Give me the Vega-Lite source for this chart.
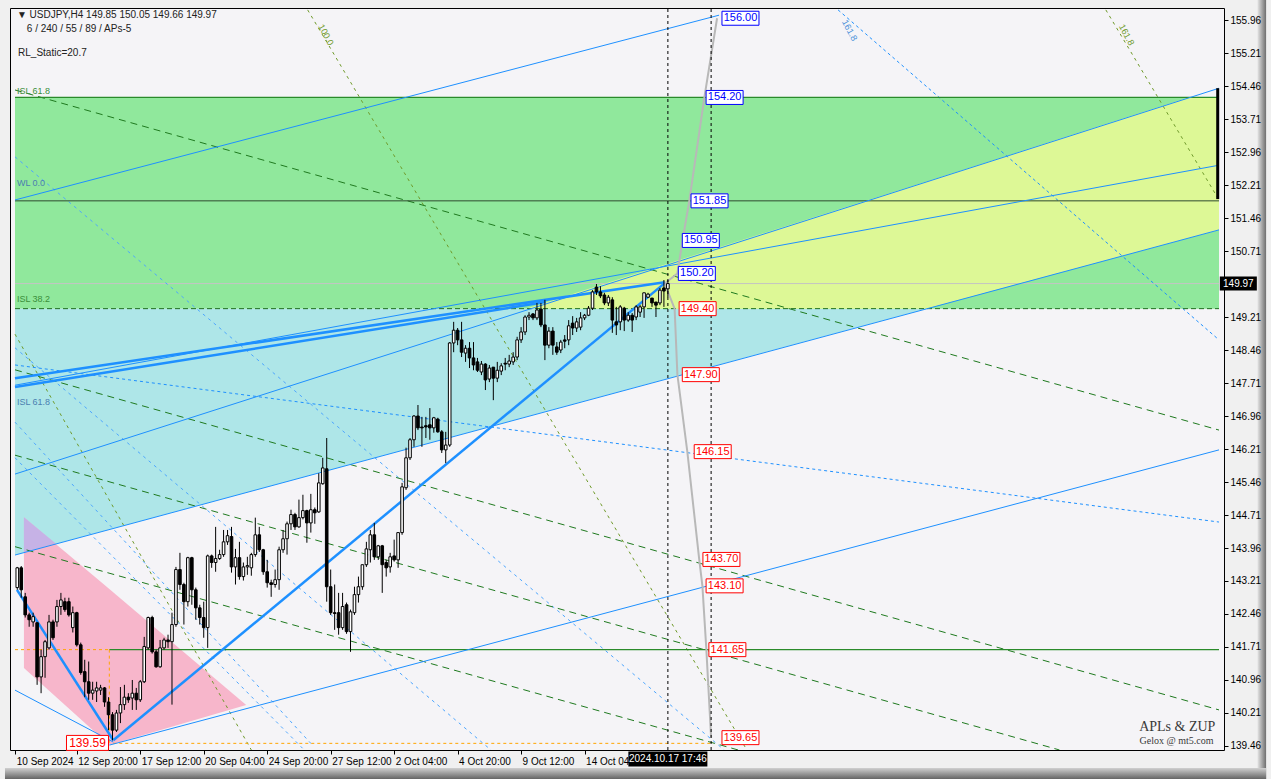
{
"$schema":"https://vega.github.io/schema/vega-lite/v6.json",
"width":1214,"height":742,
"autosize":{"type":"none"},
"padding":{"left":10,"top":8,"right":47,"bottom":29},
"background":"#f0f0f0",
"config":{"view":{"stroke":"#000000","strokeWidth":1,"fill":"#f5f4f7"},"font":"Liberation Sans","axis":{"labelOverlap":false,"labelFlush":false}},
"datasets":{
"candles":[
{"i":0,"o":143.06,"h":143.53,"l":143.01,"c":143.51},{"i":1,"o":143.51,"h":143.55,"l":142.83,"c":143.01},{"i":2,"o":142.85,"h":142.94,"l":142.38,"c":142.44},{"i":3,"o":142.44,"h":142.49,"l":142.17,"c":142.33},{"i":4,"o":142.28,"h":142.49,"l":142.17,"c":142.40},{"i":5,"o":142.26,"h":142.28,"l":140.85,"c":141.03},{"i":6,"o":141.03,"h":141.65,"l":140.66,"c":141.49},{"i":7,"o":141.49,"h":141.87,"l":141.01,"c":141.83},{"i":8,"o":141.69,"h":142.44,"l":141.65,"c":142.28},{"i":9,"o":142.28,"h":142.33,"l":141.87,"c":141.92},
{"i":10,"o":142.28,"h":142.78,"l":142.17,"c":142.63},{"i":11,"o":142.63,"h":142.94,"l":142.44,"c":142.78},{"i":12,"o":142.74,"h":142.83,"l":142.51,"c":142.56},{"i":13,"o":142.74,"h":142.83,"l":142.40,"c":142.44},{"i":14,"o":142.15,"h":142.63,"l":142.04,"c":142.49},{"i":15,"o":142.49,"h":142.51,"l":141.72,"c":141.76},{"i":16,"o":141.76,"h":141.81,"l":141.08,"c":141.13},{"i":17,"o":141.15,"h":141.42,"l":140.57,"c":140.92},{"i":18,"o":140.92,"h":141.38,"l":140.51,"c":140.66},{"i":19,"o":140.66,"h":140.92,"l":140.51,"c":140.73},
{"i":20,"o":140.71,"h":140.92,"l":140.46,"c":140.78},{"i":21,"o":140.73,"h":140.85,"l":140.62,"c":140.78},{"i":22,"o":140.78,"h":140.80,"l":140.35,"c":140.46},{"i":23,"o":140.46,"h":140.57,"l":139.82,"c":140.17},{"i":24,"o":140.17,"h":140.23,"l":139.59,"c":139.82},{"i":25,"o":139.82,"h":140.28,"l":139.78,"c":140.21},{"i":26,"o":140.21,"h":140.80,"l":139.98,"c":140.40},{"i":27,"o":140.40,"h":140.85,"l":140.28,"c":140.57},{"i":28,"o":140.57,"h":140.66,"l":140.44,"c":140.51},{"i":29,"o":140.55,"h":140.96,"l":140.28,"c":140.66},
{"i":30,"o":140.66,"h":140.78,"l":140.28,"c":140.51},{"i":31,"o":140.51,"h":140.96,"l":140.46,"c":140.92},{"i":32,"o":140.92,"h":141.94,"l":140.89,"c":141.72},{"i":33,"o":141.69,"h":142.40,"l":141.65,"c":142.38},{"i":34,"o":142.38,"h":142.42,"l":141.56,"c":141.60},{"i":35,"o":141.60,"h":141.65,"l":141.24,"c":141.26},{"i":36,"o":141.26,"h":141.87,"l":141.24,"c":141.69},{"i":37,"o":141.69,"h":141.92,"l":141.65,"c":141.87},{"i":38,"o":141.87,"h":141.99,"l":141.69,"c":141.83},{"i":39,"o":141.83,"h":142.49,"l":140.40,"c":142.22},
{"i":40,"o":142.22,"h":143.53,"l":142.17,"c":143.47},{"i":41,"o":143.47,"h":143.85,"l":143.01,"c":143.13},{"i":42,"o":143.13,"h":143.17,"l":142.22,"c":142.74},{"i":43,"o":142.74,"h":143.76,"l":142.63,"c":143.74},{"i":44,"o":143.74,"h":143.76,"l":142.67,"c":143.01},{"i":45,"o":143.01,"h":143.06,"l":142.33,"c":142.60},{"i":46,"o":142.60,"h":142.67,"l":142.22,"c":142.38},{"i":47,"o":142.38,"h":142.74,"l":141.92,"c":142.15},{"i":48,"o":142.15,"h":143.81,"l":141.69,"c":143.78},{"i":49,"o":143.78,"h":143.81,"l":143.51,"c":143.63},
{"i":50,"o":143.63,"h":144.44,"l":143.42,"c":143.72},{"i":51,"o":143.72,"h":143.92,"l":143.69,"c":143.81},{"i":52,"o":143.81,"h":144.37,"l":143.76,"c":144.10},{"i":53,"o":144.10,"h":144.37,"l":144.03,"c":144.24},{"i":54,"o":144.22,"h":144.44,"l":143.40,"c":143.53},{"i":55,"o":143.53,"h":143.94,"l":143.13,"c":143.74},{"i":56,"o":143.74,"h":144.10,"l":143.24,"c":143.31},{"i":57,"o":143.31,"h":143.63,"l":143.22,"c":143.53},{"i":58,"o":143.53,"h":143.76,"l":143.35,"c":143.56},{"i":59,"o":143.51,"h":143.85,"l":143.33,"c":143.81},
{"i":60,"o":143.81,"h":144.65,"l":143.76,"c":144.26},{"i":61,"o":144.26,"h":144.44,"l":143.87,"c":143.92},{"i":62,"o":143.92,"h":143.94,"l":143.35,"c":143.42},{"i":63,"o":143.42,"h":143.69,"l":143.06,"c":143.17},{"i":64,"o":143.17,"h":143.24,"l":142.85,"c":143.13},{"i":65,"o":143.13,"h":143.47,"l":143.06,"c":143.24},{"i":66,"o":143.24,"h":143.99,"l":143.01,"c":143.92},{"i":67,"o":143.92,"h":144.37,"l":143.85,"c":144.17},{"i":68,"o":144.17,"h":144.56,"l":143.81,"c":144.51},{"i":69,"o":144.51,"h":144.83,"l":144.37,"c":144.72},
{"i":70,"o":144.72,"h":144.76,"l":144.37,"c":144.44},{"i":71,"o":144.44,"h":145.06,"l":144.42,"c":144.65},{"i":72,"o":144.65,"h":145.17,"l":144.61,"c":144.81},{"i":73,"o":144.81,"h":144.83,"l":144.08,"c":144.53},{"i":74,"o":144.53,"h":145.19,"l":144.31,"c":144.83},{"i":75,"o":144.83,"h":144.88,"l":144.51,"c":144.76},{"i":76,"o":144.78,"h":145.66,"l":144.76,"c":145.44},{"i":77,"o":145.42,"h":146.01,"l":145.40,"c":145.78},{"i":78,"o":145.76,"h":146.46,"l":142.74,"c":143.08},{"i":79,"o":143.08,"h":143.47,"l":142.44,"c":142.49},
{"i":80,"o":142.49,"h":143.13,"l":142.10,"c":142.47},{"i":81,"o":142.49,"h":142.94,"l":141.99,"c":142.15},{"i":82,"o":142.15,"h":142.94,"l":142.10,"c":142.63},{"i":83,"o":142.67,"h":142.72,"l":142.01,"c":142.06},{"i":84,"o":142.06,"h":142.56,"l":141.60,"c":142.51},{"i":85,"o":142.49,"h":143.08,"l":142.44,"c":142.90},{"i":86,"o":142.90,"h":143.31,"l":142.72,"c":143.08},{"i":87,"o":143.08,"h":143.58,"l":143.01,"c":143.58},{"i":88,"o":143.58,"h":144.10,"l":143.53,"c":143.94},{"i":89,"o":143.92,"h":144.37,"l":143.63,"c":144.26},
{"i":90,"o":144.26,"h":144.53,"l":143.69,"c":143.76},{"i":91,"o":143.76,"h":144.03,"l":143.69,"c":144.01},{"i":92,"o":144.01,"h":144.03,"l":142.94,"c":143.58},{"i":93,"o":143.63,"h":143.69,"l":143.31,"c":143.51},{"i":94,"o":143.53,"h":143.85,"l":143.40,"c":143.76},{"i":95,"o":143.78,"h":144.15,"l":143.65,"c":143.69},{"i":96,"o":143.69,"h":144.31,"l":143.51,"c":144.31},{"i":97,"o":144.31,"h":145.44,"l":144.26,"c":145.35},{"i":98,"o":145.33,"h":146.24,"l":145.28,"c":146.01},{"i":99,"o":146.01,"h":146.46,"l":145.96,"c":146.42},
{"i":100,"o":146.42,"h":146.98,"l":146.26,"c":146.96},{"i":101,"o":146.96,"h":147.21,"l":146.64,"c":146.69},{"i":102,"o":146.71,"h":146.94,"l":146.26,"c":146.69},{"i":103,"o":146.74,"h":146.94,"l":146.46,"c":146.71},{"i":104,"o":146.76,"h":147.14,"l":146.42,"c":146.69},{"i":105,"o":146.69,"h":146.94,"l":146.58,"c":146.92},{"i":106,"o":146.89,"h":146.92,"l":146.58,"c":146.60},{"i":107,"o":146.60,"h":146.64,"l":146.12,"c":146.19},{"i":108,"o":146.19,"h":146.60,"l":145.89,"c":146.30},{"i":109,"o":146.30,"h":148.64,"l":146.26,"c":148.62},
{"i":110,"o":148.62,"h":149.10,"l":148.41,"c":148.91},{"i":111,"o":148.91,"h":148.96,"l":148.57,"c":148.69},{"i":112,"o":148.69,"h":149.10,"l":148.30,"c":148.41},{"i":113,"o":148.39,"h":148.57,"l":148.19,"c":148.50},{"i":114,"o":148.50,"h":148.64,"l":148.05,"c":148.28},{"i":115,"o":148.28,"h":148.64,"l":148.00,"c":148.12},{"i":116,"o":148.19,"h":148.28,"l":147.96,"c":148.00},{"i":117,"o":147.96,"h":148.21,"l":147.89,"c":148.14},{"i":118,"o":148.14,"h":148.16,"l":147.55,"c":147.78},{"i":119,"o":147.80,"h":148.12,"l":147.73,"c":148.05},
{"i":120,"o":148.07,"h":148.07,"l":147.32,"c":147.82},{"i":121,"o":147.82,"h":148.19,"l":147.73,"c":148.00},{"i":122,"o":147.98,"h":148.16,"l":147.89,"c":148.10},{"i":123,"o":148.16,"h":148.28,"l":148.00,"c":148.14},{"i":124,"o":148.14,"h":148.35,"l":148.07,"c":148.21},{"i":125,"o":148.19,"h":148.41,"l":148.12,"c":148.30},{"i":126,"o":148.30,"h":148.76,"l":148.23,"c":148.69},{"i":127,"o":148.69,"h":148.98,"l":148.62,"c":148.87},{"i":128,"o":148.87,"h":149.25,"l":148.80,"c":149.21},{"i":129,"o":149.21,"h":149.32,"l":149.14,"c":149.25},
{"i":130,"o":149.28,"h":149.30,"l":149.14,"c":149.19},{"i":131,"o":149.19,"h":149.53,"l":149.14,"c":149.37},{"i":132,"o":149.39,"h":149.53,"l":148.98,"c":149.03},{"i":133,"o":149.03,"h":149.60,"l":148.23,"c":148.57},{"i":134,"o":148.57,"h":148.98,"l":148.50,"c":148.89},{"i":135,"o":148.89,"h":148.98,"l":148.35,"c":148.57},{"i":136,"o":148.53,"h":148.64,"l":148.35,"c":148.41},{"i":137,"o":148.46,"h":148.69,"l":148.39,"c":148.64},{"i":138,"o":148.69,"h":148.80,"l":148.50,"c":148.66},{"i":139,"o":148.69,"h":149.14,"l":148.57,"c":149.01},
{"i":140,"o":149.07,"h":149.23,"l":148.80,"c":148.96},{"i":141,"o":148.96,"h":149.19,"l":148.87,"c":149.10},{"i":142,"o":148.98,"h":149.32,"l":148.91,"c":149.19},{"i":143,"o":149.19,"h":149.28,"l":149.14,"c":149.25},{"i":144,"o":149.25,"h":149.46,"l":149.23,"c":149.41},{"i":145,"o":149.41,"h":149.82,"l":149.37,"c":149.78},{"i":146,"o":149.89,"h":149.96,"l":149.71,"c":149.78},{"i":147,"o":149.78,"h":149.91,"l":149.64,"c":149.69},{"i":148,"o":149.71,"h":149.76,"l":149.48,"c":149.53},{"i":149,"o":149.53,"h":149.71,"l":149.46,"c":149.66},
{"i":150,"o":149.60,"h":149.66,"l":148.85,"c":149.14},{"i":151,"o":149.10,"h":149.44,"l":148.80,"c":149.03},{"i":152,"o":149.10,"h":149.48,"l":148.91,"c":149.44},{"i":153,"o":149.41,"h":149.44,"l":148.89,"c":149.14},{"i":154,"o":149.14,"h":149.32,"l":149.10,"c":149.25},{"i":155,"o":149.25,"h":149.30,"l":148.87,"c":149.14},{"i":156,"o":149.21,"h":149.48,"l":149.14,"c":149.44},{"i":157,"o":149.32,"h":149.48,"l":149.21,"c":149.44},{"i":158,"o":149.44,"h":149.76,"l":149.19,"c":149.76},{"i":159,"o":149.66,"h":149.76,"l":149.64,"c":149.73},
{"i":160,"o":149.64,"h":149.64,"l":149.44,"c":149.53},{"i":161,"o":149.55,"h":149.55,"l":149.21,"c":149.48},{"i":162,"o":149.53,"h":149.87,"l":149.48,"c":149.82},{"i":163,"o":149.87,"h":150.05,"l":149.44,"c":149.80},{"i":164,"o":149.85,"h":150.05,"l":149.66,"c":149.97}
],
"segs":[
{"g":"hg","id":"h1","o":0,"i":-0.575,"p":154.2},{"g":"hg","id":"h1","o":1,"i":302.925,"p":154.2},
{"g":"hg","id":"h4","o":0,"i":23.2,"p":141.65},{"g":"hg","id":"h4","o":1,"i":302.925,"p":141.65},
{"g":"hk","id":"h2","o":0,"i":-0.575,"p":151.85},{"g":"hk","id":"h2","o":1,"i":302.925,"p":151.85},
{"g":"hgd","id":"h3","o":0,"i":-0.575,"p":149.4},{"g":"hgd","id":"h3","o":1,"i":302.925,"p":149.4},
{"g":"hl","id":"h5","o":0,"i":-0.575,"p":149.97},{"g":"hl","id":"h5","o":1,"i":302.925,"p":149.97},
{"g":"b","id":"B1","o":0,"i":-0.575,"p":151.87},{"g":"b","id":"B1","o":1,"i":176.9,"p":156.07},
{"g":"b","id":"B2","o":0,"i":-0.575,"p":147.66},{"g":"b","id":"B2","o":1,"i":302.925,"p":152.66},
{"g":"b","id":"B3","o":0,"i":-0.575,"p":145.64},{"g":"b","id":"B3","o":1,"i":302.925,"p":154.41},
{"g":"b","id":"B4","o":0,"i":-0.575,"p":143.80},{"g":"b","id":"B4","o":1,"i":302.925,"p":151.19},
{"g":"b","id":"B5","o":0,"i":23.2,"p":139.48},{"g":"b","id":"B5","o":1,"i":302.925,"p":146.19},
{"g":"b","id":"B6","o":0,"i":-0.575,"p":140.73},{"g":"b","id":"B6","o":1,"i":24.2,"p":139.55},
{"g":"bt","id":"T1","o":0,"i":-0.075,"p":143.01},{"g":"bt","id":"T1","o":1,"i":24.2,"p":139.59},
{"g":"bt","id":"T2","o":0,"i":24.2,"p":139.59},{"g":"bt","id":"T2","o":1,"i":163.2,"p":149.98},
{"g":"bt","id":"T3","o":0,"i":-0.575,"p":147.82},{"g":"bt","id":"T3","o":1,"i":163.2,"p":150.0},
{"g":"bt","id":"T4","o":0,"i":-0.575,"p":147.62},{"g":"bt","id":"T4","o":1,"i":133.2,"p":149.55},
{"g":"bd","id":"D1","o":0,"i":-0.575,"p":148.12},{"g":"bd","id":"D1","o":1,"i":302.925,"p":144.55},
{"g":"bd","id":"D2","o":0,"i":206.9,"p":156.19},{"g":"bd","id":"D2","o":1,"i":302.925,"p":148.69},
{"g":"bs","id":"S1","o":0,"i":-0.575,"p":152.85},{"g":"bs","id":"S1","o":1,"i":178.2,"p":139.37},
{"g":"bs","id":"S2","o":0,"i":-0.575,"p":148.51},{"g":"bs","id":"S2","o":1,"i":119.4,"p":139.37},
{"g":"bs","id":"S3","o":0,"i":-0.575,"p":146.82},{"g":"bs","id":"S3","o":1,"i":74.4,"p":139.48},
{"g":"bs","id":"S4","o":0,"i":-0.575,"p":146.01},{"g":"bs","id":"S4","o":1,"i":71.9,"p":139.41},
{"g":"gd","id":"G1","o":0,"i":-0.575,"p":154.37},{"g":"gd","id":"G1","o":1,"i":302.925,"p":146.64},
{"g":"gd","id":"G2","o":0,"i":-0.575,"p":148.01},{"g":"gd","id":"G2","o":1,"i":302.925,"p":140.28},
{"g":"gd","id":"G3","o":0,"i":-0.575,"p":146.07},{"g":"gd","id":"G3","o":1,"i":262.7,"p":139.37},
{"g":"gd","id":"G4","o":0,"i":-0.575,"p":143.99},{"g":"gd","id":"G4","o":1,"i":181.7,"p":139.37},
{"g":"od","id":"O1","o":0,"i":73.2,"p":156.19},{"g":"od","id":"O1","o":1,"i":183.9,"p":139.37},
{"g":"od","id":"O2","o":0,"i":-0.575,"p":148.82},{"g":"od","id":"O2","o":1,"i":59.0,"p":139.37},
{"g":"od","id":"O3","o":0,"i":274.4,"p":156.19},{"g":"od","id":"O3","o":1,"i":302.925,"p":151.87},
{"g":"gr","id":"up","o":0,"i":163.2,"p":149.97},{"g":"gr","id":"up","o":1,"i":166.4,"p":150.2},{"g":"gr","id":"up","o":2,"i":167.7,"p":150.95},{"g":"gr","id":"up","o":3,"i":169.4,"p":151.85},{"g":"gr","id":"up","o":4,"i":173.2,"p":154.2},{"g":"gr","id":"up","o":5,"i":176.4,"p":156.0},
{"g":"gr","id":"dn","o":0,"i":163.2,"p":149.97},{"g":"gr","id":"dn","o":1,"i":165.7,"p":149.4},{"g":"gr","id":"dn","o":2,"i":166.4,"p":147.9},{"g":"gr","id":"dn","o":3,"i":168.9,"p":146.15},{"g":"gr","id":"dn","o":4,"i":171.9,"p":143.7},{"g":"gr","id":"dn","o":5,"i":172.7,"p":143.1},{"g":"gr","id":"dn","o":6,"i":173.7,"p":141.65},{"g":"gr","id":"dn","o":7,"i":174.9,"p":139.65},
{"g":"or","id":"r1","o":0,"i":-0.575,"p":141.65},{"g":"or","id":"r1","o":1,"i":23.2,"p":141.65},
{"g":"or","id":"r2","o":0,"i":23.2,"p":141.65},{"g":"or","id":"r2","o":1,"i":23.2,"p":139.52},
{"g":"or","id":"r3","o":0,"i":24.2,"p":139.52},{"g":"or","id":"r3","o":1,"i":174.9,"p":139.52},
{"g":"kd","id":"v1","o":0,"i":164,"p":139.369},{"g":"kd","id":"v1","o":1,"i":164,"p":156.233},
{"g":"kd","id":"v2","o":0,"i":174.9,"p":139.369},{"g":"kd","id":"v2","o":1,"i":174.9,"p":156.233}
],
"plabels":[
{"t":"156.00","i":182.3,"p":156.0,"g":"b"},{"t":"154.20","i":178.3,"p":154.2,"g":"b"},{"t":"151.85","i":174.5,"p":151.85,"g":"b"},{"t":"150.95","i":172.3,"p":150.95,"g":"b"},{"t":"150.20","i":171.3,"p":150.2,"g":"b"},
{"t":"149.40","i":171.5,"p":149.4,"g":"r"},{"t":"147.90","i":172.3,"p":147.9,"g":"r"},{"t":"146.15","i":175.3,"p":146.15,"g":"r"},{"t":"143.70","i":177.5,"p":143.7,"g":"r"},{"t":"143.10","i":178.3,"p":143.1,"g":"r"},{"t":"141.65","i":179.0,"p":141.65,"g":"r"},{"t":"139.65","i":182.3,"p":139.65,"g":"r"}
],
"texts":[
{"t":"▼ USDJPY,H4  149.85 150.05 149.66 149.97","i":-0.1,"p":156.07,"g":"k"},
{"t":"6 / 240 / 55 / 89 / APs-5","i":2.4,"p":155.76,"g":"k"},
{"t":"RL_Static=20.7","i":0.2,"p":155.21,"g":"k"},
{"t":"ISL 61.8","i":-0.1,"p":154.35,"g":"g"},
{"t":"ISL 38.2","i":-0.1,"p":149.62,"g":"g"},
{"t":"WL 0.0","i":-0.1,"p":152.25,"g":"s"},
{"t":"ISL 61.8","i":-0.1,"p":147.28,"g":"s"}
],
"rtexts":[
{"t":"100.0","i":76.5,"p":155.85,"g":"o"},
{"t":"161.8","i":278.3,"p":155.85,"g":"o"},
{"t":"161.8","i":208.5,"p":155.95,"g":"s"}
],
"bevel":[
{"k":"r","i1":312.6,"i2":314.8,"p1":138.7,"p2":156.42},
{"k":"b","i1":-3.1,"i2":314.8,"p1":138.7,"p2":138.96}
]
},
"layer":[
{"data":{"values":[{"i1":-0.575,"i2":302.925,"p1":149.4,"p2":154.2}]},
 "mark":{"type":"rect","fill":"#90e89c"},
 "encoding":{
  "x":{"field":"i1","type":"quantitative","title":null,"scale":{"domain":[-0.575,302.925],"nice":false,"zero":false},
   "axis":{"values":[-0.5,15,31,47,63,79,95,111,127,143],"tickCount":40,"labelExpr":"datum.value < 0 ? '10 Sep 2024' : datum.value == 15 ? '12 Sep 20:00' : datum.value == 31 ? '17 Sep 12:00' : datum.value == 47 ? '20 Sep 04:00' : datum.value == 63 ? '24 Sep 20:00' : datum.value == 79 ? '27 Sep 12:00' : datum.value == 95 ? '2 Oct 04:00' : datum.value == 111 ? '4 Oct 20:00' : datum.value == 127 ? '9 Oct 12:00' : '14 Oct 04:'","labelAlign":"left","labelFont":"Liberation Sans","labelFontSize":10,"labelColor":"#000000","tickColor":"#000000","tickSize":4,"domain":false,"grid":false,"title":null,"labelPadding":2,"labelFlush":false,"labelOverlap":false,"labelOffset":1}},
  "x2":{"field":"i2"},
  "y":{"field":"p1","type":"quantitative","title":null,"scale":{"domain":[139.369,156.233],"nice":false,"zero":false},
   "axis":{"orient":"right","values":[139.46,140.21,140.96,141.71,142.46,143.21,143.96,144.71,145.46,146.21,146.96,147.71,148.46,149.21,150.71,151.46,152.21,152.96,153.71,154.46,155.21,155.96],"tickCount":60,"format":".2f","labelFont":"Liberation Sans","labelFontSize":10,"labelColor":"#000000","tickColor":"#000000","tickSize":4,"domain":false,"grid":false,"title":null,"labelPadding":2,"labelOverlap":false,"labelFlush":false,"zindex":1}},
  "y2":{"field":"p2"}}},
{"data":{"values":[{"i":-0.575,"t":149.4,"b":143.8},{"i":229.2,"t":149.4,"b":149.4}]},
 "mark":{"type":"area","fill":"#aee6e8","clip":true},
 "encoding":{"x":{"field":"i","type":"quantitative","scale":{"domain":[-0.575,302.925],"nice":false,"zero":false},"title":null},
  "y":{"field":"t","type":"quantitative","scale":{"domain":[139.369,156.233],"nice":false,"zero":false},"title":null},"y2":{"field":"b"}}},
{"data":{"values":[{"i":128.2,"t":149.4,"b":149.4},{"i":229.2,"t":152.29,"b":149.4},{"i":295.2,"t":154.2,"b":151.0},{"i":302.925,"t":154.2,"b":151.19}]},
 "mark":{"type":"area","fill":"#ddf896","clip":true},
 "encoding":{"x":{"field":"i","type":"quantitative","scale":{"domain":[-0.575,302.925],"nice":false,"zero":false},"title":null},
  "y":{"field":"t","type":"quantitative","scale":{"domain":[139.369,156.233],"nice":false,"zero":false},"title":null},"y2":{"field":"b"}}},
{"data":{"values":[{"i":1.675,"t":144.66,"b":141.23},{"i":23.2,"t":143.03,"b":139.48},{"i":57.7,"t":140.39,"b":140.39}]},
 "mark":{"type":"area","fill":"#f7b6cb","clip":true},
 "encoding":{"x":{"field":"i","type":"quantitative","scale":{"domain":[-0.575,302.925],"nice":false,"zero":false},"title":null},
  "y":{"field":"t","type":"quantitative","scale":{"domain":[139.369,156.233],"nice":false,"zero":false},"title":null},"y2":{"field":"b"}}},
{"data":{"values":[{"i":1.675,"t":144.66,"b":143.86},{"i":9.675,"t":144.06,"b":144.06}]},
 "mark":{"type":"area","fill":"#c6b2e6","clip":true},
 "encoding":{"x":{"field":"i","type":"quantitative","scale":{"domain":[-0.575,302.925],"nice":false,"zero":false},"title":null},
  "y":{"field":"t","type":"quantitative","scale":{"domain":[139.369,156.233],"nice":false,"zero":false},"title":null},"y2":{"field":"b"}}},
{"data":{"name":"segs"},"transform":[{"filter":"datum.g=='hl'"}],"mark":{"type":"line","stroke":"#c4c4c4","strokeWidth":1,"clip":true},
 "encoding":{"x":{"field":"i","type":"quantitative","scale":{"domain":[-0.575,302.925],"nice":false,"zero":false},"title":null},"y":{"field":"p","type":"quantitative","scale":{"domain":[139.369,156.233],"nice":false,"zero":false},"title":null},"detail":{"field":"id"},"order":{"field":"o"}}},
{"data":{"name":"segs"},"transform":[{"filter":"datum.g=='od'"}],"mark":{"type":"line","stroke":"#6f9a2a","strokeWidth":1,"strokeDash":[3,4],"clip":true},
 "encoding":{"x":{"field":"i","type":"quantitative","scale":{"domain":[-0.575,302.925],"nice":false,"zero":false},"title":null},"y":{"field":"p","type":"quantitative","scale":{"domain":[139.369,156.233],"nice":false,"zero":false},"title":null},"detail":{"field":"id"},"order":{"field":"o"}}},
{"data":{"name":"segs"},"transform":[{"filter":"datum.g=='bs'"}],"mark":{"type":"line","stroke":"#4da6ff","strokeWidth":1,"strokeDash":[3,4],"clip":true},
 "encoding":{"x":{"field":"i","type":"quantitative","scale":{"domain":[-0.575,302.925],"nice":false,"zero":false},"title":null},"y":{"field":"p","type":"quantitative","scale":{"domain":[139.369,156.233],"nice":false,"zero":false},"title":null},"detail":{"field":"id"},"order":{"field":"o"}}},
{"data":{"name":"segs"},"transform":[{"filter":"datum.g=='gd'"}],"mark":{"type":"line","stroke":"#1f7a1f","strokeWidth":1,"strokeDash":[7,5],"clip":true},
 "encoding":{"x":{"field":"i","type":"quantitative","scale":{"domain":[-0.575,302.925],"nice":false,"zero":false},"title":null},"y":{"field":"p","type":"quantitative","scale":{"domain":[139.369,156.233],"nice":false,"zero":false},"title":null},"detail":{"field":"id"},"order":{"field":"o"}}},
{"data":{"name":"segs"},"transform":[{"filter":"datum.g=='bd'"}],"mark":{"type":"line","stroke":"#1e90ff","strokeWidth":1,"strokeDash":[3,3],"clip":true},
 "encoding":{"x":{"field":"i","type":"quantitative","scale":{"domain":[-0.575,302.925],"nice":false,"zero":false},"title":null},"y":{"field":"p","type":"quantitative","scale":{"domain":[139.369,156.233],"nice":false,"zero":false},"title":null},"detail":{"field":"id"},"order":{"field":"o"}}},
{"data":{"name":"segs"},"transform":[{"filter":"datum.g=='hg'"}],"mark":{"type":"line","stroke":"#2a8a2a","strokeWidth":1.2,"clip":true},
 "encoding":{"x":{"field":"i","type":"quantitative","scale":{"domain":[-0.575,302.925],"nice":false,"zero":false},"title":null},"y":{"field":"p","type":"quantitative","scale":{"domain":[139.369,156.233],"nice":false,"zero":false},"title":null},"detail":{"field":"id"},"order":{"field":"o"}}},
{"data":{"name":"segs"},"transform":[{"filter":"datum.g=='hk'"}],"mark":{"type":"line","stroke":"#2f4a2f","strokeWidth":1,"clip":true},
 "encoding":{"x":{"field":"i","type":"quantitative","scale":{"domain":[-0.575,302.925],"nice":false,"zero":false},"title":null},"y":{"field":"p","type":"quantitative","scale":{"domain":[139.369,156.233],"nice":false,"zero":false},"title":null},"detail":{"field":"id"},"order":{"field":"o"}}},
{"data":{"name":"segs"},"transform":[{"filter":"datum.g=='hgd'"}],"mark":{"type":"line","stroke":"#1f6f1f","strokeWidth":1,"strokeDash":[5,3],"clip":true},
 "encoding":{"x":{"field":"i","type":"quantitative","scale":{"domain":[-0.575,302.925],"nice":false,"zero":false},"title":null},"y":{"field":"p","type":"quantitative","scale":{"domain":[139.369,156.233],"nice":false,"zero":false},"title":null},"detail":{"field":"id"},"order":{"field":"o"}}},
{"data":{"name":"segs"},"transform":[{"filter":"datum.g=='or'"}],"mark":{"type":"line","stroke":"#ffa500","strokeWidth":1,"strokeDash":[3,3],"clip":true},
 "encoding":{"x":{"field":"i","type":"quantitative","scale":{"domain":[-0.575,302.925],"nice":false,"zero":false},"title":null},"y":{"field":"p","type":"quantitative","scale":{"domain":[139.369,156.233],"nice":false,"zero":false},"title":null},"detail":{"field":"id"},"order":{"field":"o"}}},
{"data":{"name":"segs"},"transform":[{"filter":"datum.g=='b'"}],"mark":{"type":"line","stroke":"#1e90ff","strokeWidth":1,"clip":true},
 "encoding":{"x":{"field":"i","type":"quantitative","scale":{"domain":[-0.575,302.925],"nice":false,"zero":false},"title":null},"y":{"field":"p","type":"quantitative","scale":{"domain":[139.369,156.233],"nice":false,"zero":false},"title":null},"detail":{"field":"id"},"order":{"field":"o"}}},
{"data":{"name":"segs"},"transform":[{"filter":"datum.g=='bt'"}],"mark":{"type":"line","stroke":"#1e90ff","strokeWidth":2.5,"clip":true},
 "encoding":{"x":{"field":"i","type":"quantitative","scale":{"domain":[-0.575,302.925],"nice":false,"zero":false},"title":null},"y":{"field":"p","type":"quantitative","scale":{"domain":[139.369,156.233],"nice":false,"zero":false},"title":null},"detail":{"field":"id"},"order":{"field":"o"}}},
{"data":{"name":"segs"},"transform":[{"filter":"datum.g=='gr'"}],"mark":{"type":"line","stroke":"#b8b8b8","strokeWidth":2,"clip":true},
 "encoding":{"x":{"field":"i","type":"quantitative","scale":{"domain":[-0.575,302.925],"nice":false,"zero":false},"title":null},"y":{"field":"p","type":"quantitative","scale":{"domain":[139.369,156.233],"nice":false,"zero":false},"title":null},"detail":{"field":"id"},"order":{"field":"o"}}},
{"data":{"name":"segs"},"transform":[{"filter":"datum.g=='kd'"}],"mark":{"type":"line","stroke":"#000000","strokeWidth":1,"strokeDash":[3,3],"clip":true},
 "encoding":{"x":{"field":"i","type":"quantitative","scale":{"domain":[-0.575,302.925],"nice":false,"zero":false},"title":null},"y":{"field":"p","type":"quantitative","scale":{"domain":[139.369,156.233],"nice":false,"zero":false},"title":null},"detail":{"field":"id"},"order":{"field":"o"}}},
{"data":{"name":"candles"},"mark":{"type":"rule","stroke":"#000000","strokeWidth":1},
 "encoding":{"x":{"field":"i","type":"quantitative","scale":{"domain":[-0.575,302.925],"nice":false,"zero":false},"title":null},"y":{"field":"l","type":"quantitative","scale":{"domain":[139.369,156.233],"nice":false,"zero":false},"title":null},"y2":{"field":"h"}}},
{"data":{"name":"candles"},"mark":{"type":"bar","width":2.6,"stroke":"#000000","strokeWidth":1},
 "encoding":{"x":{"field":"i","type":"quantitative","scale":{"domain":[-0.575,302.925],"nice":false,"zero":false},"title":null},"y":{"field":"o","type":"quantitative","scale":{"domain":[139.369,156.233],"nice":false,"zero":false},"title":null},"y2":{"field":"c"},
  "fill":{"condition":{"test":"datum.c >= datum.o","value":"#ffffff"},"value":"#000000"}}},
{"data":{"name":"plabels"},"mark":{"type":"point","shape":"M-1,-0.378L1,-0.378L1,0.378L-1,0.378Z","size":1369,"filled":true,"fill":"#ffffff","strokeWidth":1,"opacity":1},
 "encoding":{"x":{"field":"i","type":"quantitative","scale":{"domain":[-0.575,302.925],"nice":false,"zero":false},"title":null},"y":{"field":"p","type":"quantitative","scale":{"domain":[139.369,156.233],"nice":false,"zero":false},"title":null},
  "stroke":{"condition":{"test":"datum.g=='b'","value":"#0000ff"},"value":"#ff0000"}}},
{"data":{"name":"plabels"},"mark":{"type":"text","align":"center","baseline":"middle","fontSize":11,"font":"Liberation Sans"},
 "encoding":{"x":{"field":"i","type":"quantitative","scale":{"domain":[-0.575,302.925],"nice":false,"zero":false},"title":null},"y":{"field":"p","type":"quantitative","scale":{"domain":[139.369,156.233],"nice":false,"zero":false},"title":null},"text":{"field":"t"},
  "color":{"condition":{"test":"datum.g=='b'","value":"#0000ff"},"value":"#ff0000"}}},
{"data":{"values":[{"t":"139.59","i":17.7,"p":139.53}]},"mark":{"type":"point","shape":"M-1,-0.357L1,-0.357L1,0.357L-1,0.357Z","size":1764,"filled":true,"fill":"#ffffff","stroke":"#ff0000","strokeWidth":1,"opacity":1},
 "encoding":{"x":{"field":"i","type":"quantitative","scale":{"domain":[-0.575,302.925],"nice":false,"zero":false},"title":null},"y":{"field":"p","type":"quantitative","scale":{"domain":[139.369,156.233],"nice":false,"zero":false},"title":null}}},
{"data":{"values":[{"t":"139.59","i":17.7,"p":139.53}]},"mark":{"type":"text","align":"center","baseline":"middle","fontSize":12,"font":"Liberation Sans","color":"#ff0000"},
 "encoding":{"x":{"field":"i","type":"quantitative","scale":{"domain":[-0.575,302.925],"nice":false,"zero":false},"title":null},"y":{"field":"p","type":"quantitative","scale":{"domain":[139.369,156.233],"nice":false,"zero":false},"title":null},"text":{"field":"t"}}},
{"data":{"name":"texts"},"mark":{"type":"text","align":"left","baseline":"middle","font":"Liberation Sans"},
 "encoding":{"x":{"field":"i","type":"quantitative","scale":{"domain":[-0.575,302.925],"nice":false,"zero":false},"title":null},"y":{"field":"p","type":"quantitative","scale":{"domain":[139.369,156.233],"nice":false,"zero":false},"title":null},"text":{"field":"t"},
  "color":{"condition":[{"test":"datum.g=='g'","value":"#3a8f3a"},{"test":"datum.g=='s'","value":"#4a7fb0"}],"value":"#222222"},
  "size":{"condition":{"test":"datum.g!='k'","value":9},"value":10}}},
{"data":{"name":"rtexts"},"mark":{"type":"text","align":"left","baseline":"middle","font":"Liberation Sans","fontSize":9,"angle":62},
 "encoding":{"x":{"field":"i","type":"quantitative","scale":{"domain":[-0.575,302.925],"nice":false,"zero":false},"title":null},"y":{"field":"p","type":"quantitative","scale":{"domain":[139.369,156.233],"nice":false,"zero":false},"title":null},"text":{"field":"t"},
  "color":{"condition":{"test":"datum.g=='o'","value":"#6f9a2a"},"value":"#4a90d9"}}},
{"data":{"values":[{"t":"APLs & ZUP","i":292.4,"p":139.89},{"t":"Gelox @ mt5.com","i":292.2,"p":139.58}]},"mark":{"type":"text","align":"center","baseline":"middle","font":"Liberation Serif","color":"#3a3a3a"},
 "encoding":{"x":{"field":"i","type":"quantitative","scale":{"domain":[-0.575,302.925],"nice":false,"zero":false},"title":null},"y":{"field":"p","type":"quantitative","scale":{"domain":[139.369,156.233],"nice":false,"zero":false},"title":null},"text":{"field":"t"},
  "size":{"condition":{"test":"datum.t=='APLs & ZUP'","value":14},"value":10}}},
{"data":{"values":[{"i":302.6,"p1":151.89,"p2":154.41}]},"mark":{"type":"rule","stroke":"#000000","strokeWidth":3},
 "encoding":{"x":{"field":"i","type":"quantitative","scale":{"domain":[-0.575,302.925],"nice":false,"zero":false},"title":null},"y":{"field":"p1","type":"quantitative","scale":{"domain":[139.369,156.233],"nice":false,"zero":false},"title":null},"y2":{"field":"p2"}}},
{"data":{"name":"bevel"},"transform":[{"filter":"datum.k=='r'"}],"mark":{"type":"rect","clip":false,"fill":{"gradient":"linear","x1":0,"x2":1,"y1":0,"y2":0,"stops":[{"offset":0,"color":"#e6e6e6"},{"offset":1,"color":"#6e6e6e"}]}},
 "encoding":{"x":{"field":"i1","type":"quantitative","scale":{"domain":[-0.575,302.925],"nice":false,"zero":false},"title":null},"x2":{"field":"i2"},"y":{"field":"p1","type":"quantitative","scale":{"domain":[139.369,156.233],"nice":false,"zero":false},"title":null},"y2":{"field":"p2"}}},
{"data":{"name":"bevel"},"transform":[{"filter":"datum.k=='b'"}],"mark":{"type":"rect","clip":false,"fill":{"gradient":"linear","x1":0,"x2":0,"y1":0,"y2":1,"stops":[{"offset":0,"color":"#d0d0d0"},{"offset":1,"color":"#606060"}]}},
 "encoding":{"x":{"field":"i1","type":"quantitative","scale":{"domain":[-0.575,302.925],"nice":false,"zero":false},"title":null},"x2":{"field":"i2"},"y":{"field":"p1","type":"quantitative","scale":{"domain":[139.369,156.233],"nice":false,"zero":false},"title":null},"y2":{"field":"p2"}}},
{"data":{"values":[{"t":"149.97","i":307.8,"p":149.97,"k":"a"},{"t":"2024.10.17 17:46","i":164,"p":139.165,"k":"d"}]},"mark":{"type":"point","filled":true,"fill":"#000000","opacity":1,"clip":false},
 "encoding":{"x":{"field":"i","type":"quantitative","scale":{"domain":[-0.575,302.925],"nice":false,"zero":false},"title":null},"y":{"field":"p","type":"quantitative","scale":{"domain":[139.369,156.233],"nice":false,"zero":false},"title":null},
  "shape":{"condition":{"test":"datum.k=='a'","value":"M-1,-0.378L1,-0.378L1,0.378L-1,0.378Z"},"value":"M-1,-0.19L1,-0.19L1,0.19L-1,0.19Z"},
  "size":{"condition":{"test":"datum.k=='a'","value":1369},"value":6241}}},
{"data":{"values":[{"t":"149.97","i":307.8,"p":149.97},{"t":"2024.10.17 17:46","i":164,"p":139.165}]},"mark":{"type":"text","align":"center","baseline":"middle","fontSize":10,"font":"Liberation Sans","color":"#ffffff"},
 "encoding":{"x":{"field":"i","type":"quantitative","scale":{"domain":[-0.575,302.925],"nice":false,"zero":false},"title":null},"y":{"field":"p","type":"quantitative","scale":{"domain":[139.369,156.233],"nice":false,"zero":false},"title":null},"text":{"field":"t"}}}
]
}
